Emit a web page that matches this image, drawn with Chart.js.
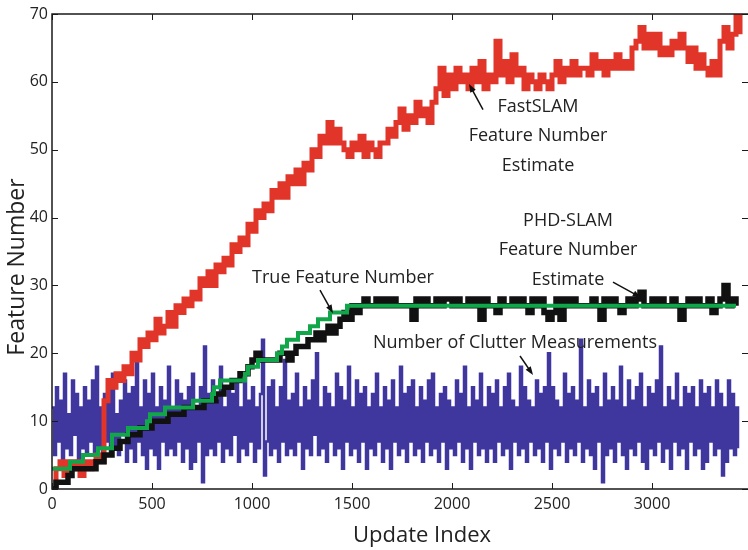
<!DOCTYPE html>
<html>
<head>
<meta charset="utf-8">
<script src="https://cdn.jsdelivr.net/npm/chart.js@4.4.1/dist/chart.umd.min.js"></script>
<style>
  html, body { margin: 0; padding: 0; background: #fff; }
</style>
</head>
<body>
<canvas id="featureChart" width="748" height="550"></canvas>
<script>
// Axis ticks
const xTicks = [0, 500, 1000, 1500, 2000, 2500, 3000];
const yTicks = [0, 10, 20, 30, 40, 50, 60, 70];

// Number of clutter measurements, one reading every 10 updates (0 .. 3430)
const clutterStep = 10;
const clutterCount = [
  12,5,15,7,13,4,17,6,11,5,16,8,14,3,12,6,15,5,13,7,
  16,5,18,6,12,4,14,7,15,5,17,6,11,5,13,8,16,4,14,6,
  15,4,19,7,12,5,16,3,14,6,17,5,12,3,15,7,13,5,18,6,
  12,5,16,7,14,4,13,6,15,3,17,4,12,7,15,1,21,5,14,6,
  16,5,13,7,18,4,12,6,15,5,14,8,16,4,12,6,17,5,13,7,
  15,4,12,6,14,22,2,7,15,5,16,6,12,4,15,7,19,5,13,6,
  14,5,17,7,12,3,15,6,13,5,16,8,20,5,12,6,15,4,14,7,
  12,5,17,6,15,3,13,7,18,5,12,6,16,4,14,7,15,3,12,6,
  14,5,17,7,12,4,15,6,13,3,16,7,12,5,18,6,14,4,15,7,
  16,5,12,6,15,4,13,7,16,5,17,6,12,4,14,7,15,3,13,6,
  12,5,16,7,14,4,18,6,12,3,15,7,13,5,17,6,12,4,15,6,
  14,4,16,7,12,5,15,6,17,3,13,7,12,5,18,6,15,4,13,7,
  12,5,16,6,14,4,15,7,20,3,15,6,13,5,12,7,17,4,14,6,
  15,5,13,7,22,4,12,6,16,5,14,3,15,7,12,1,17,5,13,6,
  15,4,13,7,18,5,12,3,16,6,13,5,15,7,17,4,12,3,15,6,
  14,5,16,7,21,4,12,6,15,3,13,7,17,5,12,6,15,3,14,7,
  15,5,12,6,16,3,14,4,15,7,12,5,16,6,14,2,12,4,16,6,
  14,5,12,6
];

// Feature number estimates, one reading every 20 updates
const estStep = 20;
const fastSlamEst = [
  0,3,4,2,4,3,4,2,4,3,4,5,4,
  13,16,15,17,16,18,17,20,19,22,
  21,23,22,25,23,24,26,24,27,26,
  28,27,29,28,31,30,32,30,33,32,
  34,33,36,35,37,36,39,38,41,40,
  42,41,44,43,45,43,46,45,47,45,
  48,47,50,49,52,51,54,51,53,51,
  50,49,51,50,52,49,51,50,49,51,
  51,53,52,54,56,53,55,54,57,55,
  56,54,57,59,62,58,61,59,62,60,
  61,59,62,60,63,59,61,60,66,61,
  63,60,64,61,62,59,61,60,59,61,
  60,59,61,63,60,62,61,63,61,62,
  62,61,64,62,63,61,63,62,64,62,
  63,62,65,66,68,65,67,65,67,64,
  65,64,66,65,67,65,63,65,62,64,
  62,61,63,61,66,68,65,67,70,67
];
const phdSlamEst = [
  0,1,1,1,2,3,3,3,3,3,3,4,4,5,5,6,6,7,7,8,
  8,8,9,9,9,10,10,10,10,11,11,11,11,12,12,12,12,12,13,13,
  13,14,14,15,15,16,16,17,17,18,19,20,19,19,19,19,19,20,20,19,
  20,21,21,21,22,22,23,22,23,24,23,24,25,26,25,27,26,27,28,27,
  27,28,27,28,27,28,27,27,27,27,25,28,27,28,27,27,28,27,28,28,
  27,28,27,27,28,27,28,25,28,27,27,26,28,27,27,28,27,28,27,26,
  28,27,28,26,25,26,28,25,28,27,28,27,27,27,27,28,27,25,28,27,
  28,27,26,27,28,27,28,29,27,27,28,27,28,27,27,28,27,25,27,28,
  27,28,27,27,28,26,27,28,30,27,28,27
];

// True feature number (changes at these update indices)
const trueChangeAt = [0, 90, 155, 230, 300, 380, 475, 490, 565, 705, 800, 810, 840, 965, 980, 1030, 1125, 1150, 1175, 1230, 1290, 1330, 1390, 1475, 3420];
const trueCount    = [3, 4, 5, 6, 8, 9, 10, 11, 12, 13, 14, 15, 16, 17, 18, 19, 20, 21, 22, 23, 24, 25, 26, 27, 27];

// Text notes with arrows (data coordinates)
const notes = [
  { lines: ['FastSLAM', 'Feature Number', 'Estimate'], x: 2430, y: 55.6, from: [2155, 55.9], to: [2085, 59.7] },
  { lines: ['PHD-SLAM', 'Feature Number', 'Estimate'], x: 2580, y: 38.8, from: [2805, 30.5], to: [2945, 28.2] },
  { lines: ['True Feature Number'], x: 1455, y: 30.4, from: [1340, 29.3], to: [1405, 25.9] },
  { lines: ['Number of Clutter Measurements'], x: 2315, y: 20.8, from: [2340, 19.6], to: [2405, 16.8] }
];

const FONT = '"Open Sans", "Noto Sans", sans-serif';
const INK = '#222';

const toPoints = (vals, step) => vals.map((v, i) => ({ x: i * step, y: v }));

function drawArrow(ctx, x0, y0, x1, y1) {
  const ang = Math.atan2(y1 - y0, x1 - x0);
  const len = 9;
  ctx.beginPath();
  ctx.moveTo(x0, y0);
  ctx.lineTo(x1 - Math.cos(ang) * 4, y1 - Math.sin(ang) * 4);
  ctx.stroke();
  ctx.beginPath();
  ctx.moveTo(x1, y1);
  ctx.lineTo(x1 - len * Math.cos(ang - 0.35), y1 - len * Math.sin(ang - 0.35));
  ctx.lineTo(x1 - len * Math.cos(ang + 0.35), y1 - len * Math.sin(ang + 0.35));
  ctx.closePath();
  ctx.fill();
}

// Box, inward ticks, axis titles and the arrow notes
const framePlugin = {
  id: 'frame',
  afterDatasetsDraw(chart) {
    const { ctx, chartArea: a, scales: { x, y } } = chart;
    ctx.save();
    ctx.strokeStyle = '#1a1a1a';
    ctx.lineWidth = 1.5;
    ctx.beginPath();
    ctx.moveTo(a.right, a.top);
    ctx.lineTo(a.left, a.top);
    ctx.lineTo(a.left, a.bottom);
    ctx.lineTo(a.right, a.bottom);
    ctx.stroke();

    ctx.lineWidth = 1;
    ctx.beginPath();
    xTicks.forEach(v => {
      const px = Math.round(x.getPixelForValue(v)) + 0.5;
      ctx.moveTo(px, a.bottom); ctx.lineTo(px, a.bottom - 6);
      ctx.moveTo(px, a.top); ctx.lineTo(px, a.top + 6);
    });
    yTicks.forEach(v => {
      const py = Math.round(y.getPixelForValue(v)) + 0.5;
      ctx.moveTo(a.left, py); ctx.lineTo(a.left + 6, py);
      ctx.moveTo(a.right, py); ctx.lineTo(a.right - 6, py);
    });
    ctx.stroke();

    // axis titles
    ctx.fillStyle = INK;
    ctx.font = '22px ' + FONT;
    ctx.textAlign = 'center';
    ctx.textBaseline = 'alphabetic';
    ctx.fillText('Update Index', 422, 542);
    ctx.save();
    ctx.translate(24, 267);
    ctx.rotate(-Math.PI / 2);
    ctx.font = '23px ' + FONT;
    ctx.fillText('Feature Number', 0, 0);
    ctx.restore();

    // notes
    ctx.font = '18px ' + FONT;
    ctx.strokeStyle = '#111';
    ctx.lineWidth = 1.5;
    notes.forEach(n => {
      const cx = x.getPixelForValue(n.x);
      const by = y.getPixelForValue(n.y);
      ctx.fillStyle = INK;
      n.lines.forEach((t, i) => ctx.fillText(t, cx, by + i * 29.5));
      ctx.fillStyle = '#111';
      drawArrow(ctx, x.getPixelForValue(n.from[0]), y.getPixelForValue(n.from[1]),
                     x.getPixelForValue(n.to[0]), y.getPixelForValue(n.to[1]));
    });
    ctx.restore();
  }
};

const line = (data, color, width, stepped) => ({
  data, borderColor: color, borderWidth: width, stepped,
  pointRadius: 0, fill: false, tension: 0, borderJoinStyle: 'miter', borderCapStyle: 'butt'
});

new Chart(document.getElementById('featureChart').getContext('2d'), {
  type: 'line',
  data: {
    datasets: [
      line(trueChangeAt.map((v, i) => ({ x: v, y: trueCount[i] })), '#12a64a', 4, true),
      line(toPoints(phdSlamEst, estStep), '#111111', 5.5, true),
      line(toPoints(fastSlamEst, estStep), '#e2352a', 5, true),
      line(toPoints(clutterCount, clutterStep), '#40379e', 2.5, true)
    ]
  },
  options: {
    responsive: false,
    animation: false,
    events: [],
    layout: { padding: { top: 14, right: 0, left: 0, bottom: 0 } },
    plugins: { legend: { display: false }, tooltip: { enabled: false } },
    scales: {
      x: {
        type: 'linear', min: 0, max: 3480,
        afterBuildTicks: s => { s.ticks = xTicks.map(v => ({ value: v })); },
        afterFit: s => { s.height = 61; },
        grid: { display: false, drawTicks: false },
        border: { display: false },
        ticks: { color: INK, font: { family: FONT, size: 16 }, padding: 6, maxRotation: 0, autoSkip: false,
                 callback: v => String(v) }
      },
      y: {
        type: 'linear', min: 0, max: 70,
        afterBuildTicks: s => { s.ticks = yTicks.map(v => ({ value: v })); },
        afterFit: s => { s.width = 52; },
        grid: { display: false, drawTicks: false },
        border: { display: false },
        ticks: { color: INK, font: { family: FONT, size: 16 }, padding: 4, callback: v => String(v) }
      }
    }
  },
  plugins: [framePlugin]
});
</script>
</body>
</html>
